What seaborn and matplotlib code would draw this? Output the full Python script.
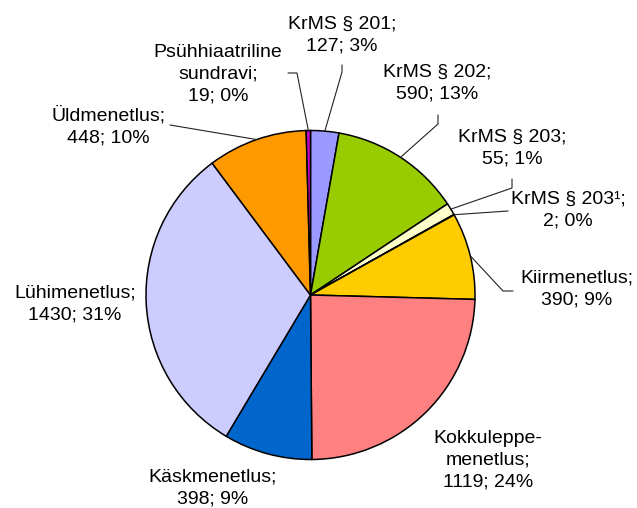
import matplotlib
matplotlib.use("Agg")
import matplotlib.pyplot as plt
import numpy as np
import seaborn as sns

categories = ["KrMS § 201", "KrMS § 202", "KrMS § 203", "KrMS § 203¹",
              "Kiirmenetlus", "Kokkuleppe-\nmenetlus", "Käskmenetlus",
              "Lühimenetlus", "Üldmenetlus", "Psühhiaatriline\nsundravi"]
values = [127, 590, 55, 2, 390, 1119, 398, 1430, 448, 19]
colors = ["#9999FF", "#99CC00", "#FFFFCC", "#CCFFFF", "#FFCC00",
          "#FF8080", "#0066CC", "#CCCCFF", "#FF9900", "#CC00CC"]

sns.set_theme(style="white")
plt.rcParams['font.family'] = ['Liberation Sans', 'DejaVu Sans']

W, H = 637, 508
CX, CY, R = 310.5, 295.0, 164.5

def px(x, y):
    return ((x - CX) / R, (CY - y) / R)

# label block centers (pixel layout)
label_pos = [(342, 35), (437, 83), (512, 148), (568, 210), (577, 289),
             (488, 460), (213, 488), (75, 304), (108, 126), (218, 74)]
# leader line start / elbow points (pixel layout); end is on wedge edge
leaders = {0: [(342, 65), (342, 72)],
           1: [(438, 115), (438, 124)],
           2: [(512, 179), (512, 188)],
           3: [(508, 211)],
           4: [(513, 291), (503, 291)],
           8: [(170, 125)],
           9: [(288, 73), (297, 73)]}

fig = plt.figure(figsize=(W / 100, H / 100), dpi=100)
ax = fig.add_axes([0, 0, 1, 1])
wedges, _ = ax.pie(values, colors=colors, startangle=90, counterclock=False,
                   wedgeprops=dict(edgecolor="black", linewidth=1.1))
ax.set_xlim(-CX / R, (W - CX) / R)
ax.set_ylim(-(H - CY) / R, CY / R)
ax.set_aspect('auto')
ax.axis('off')

total = sum(values)
for i, (cat, val) in enumerate(zip(categories, values)):
    pct = int(round(val / total * 100))
    txt = f"{cat};\n{val}; {pct}%"
    x, y = px(*label_pos[i])
    ax.text(x, y, txt, ha='center', va='center', fontsize=14,
            linespacing=1.35, color='black', multialignment='center')
    if i in leaders:
        w = wedges[i]
        mid = np.deg2rad((w.theta1 + w.theta2) / 2)
        ex, ey = np.cos(mid) * w.r, np.sin(mid) * w.r
        pts = [px(*p) for p in leaders[i]] + [(ex, ey)]
        ax.plot([p[0] for p in pts], [p[1] for p in pts], color='#222222', lw=0.8)

fig.savefig("out.png", dpi=100)
